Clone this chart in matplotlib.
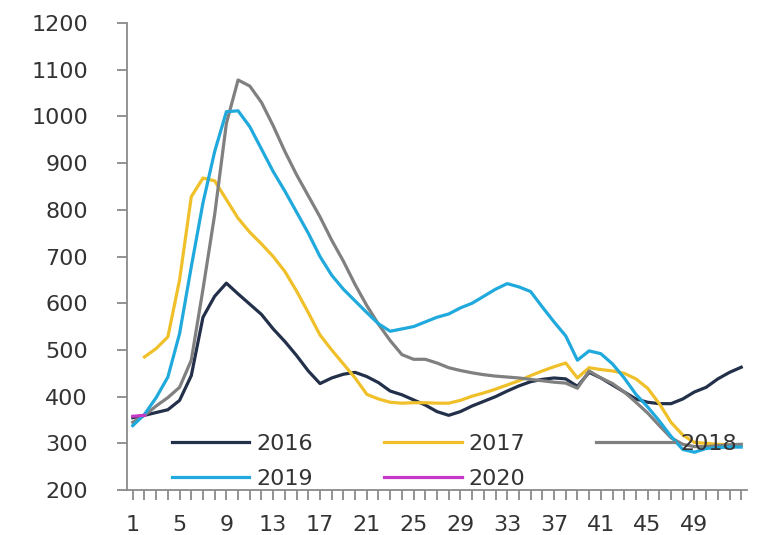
import numpy as np
import matplotlib.pyplot as plt

weeks = np.arange(1, 54)

# weekly values per year (week 1..53), nan where the year has no reading
y2016 = [355, 360, 366, 372, 392, 445, 570, 615, 643, 620, 598, 576, 545, 518, 488,
         455, 428, 440, 448, 452, 443, 430, 412, 404, 393, 382, 368, 360, 368, 380,
         390, 400, 412, 423, 432, 437, 440, 438, 422, 452, 440, 425, 410, 395, 388,
         385, 385, 395, 410, 420, 438, 452, 463]
y2017 = [np.nan, 485, 503, 528, 650, 828, 868, 862, 822, 782, 752, 727, 700, 668, 626,
         580, 532, 500, 470, 440, 405, 395, 388, 386, 387, 387, 386, 386, 392, 401,
         408, 416, 425, 434, 445, 455, 464, 472, 440, 462, 458, 455, 450, 438, 418,
         385, 345, 318, 302, 300, 298, 297, 296]
y2018 = [345, 360, 380, 398, 420, 478, 630, 790, 985, 1078, 1065, 1030, 980, 925, 875,
         830, 785, 735, 690, 640, 595, 555, 520, 490, 480, 480, 472, 462, 456, 451,
         447, 444, 442, 440, 437, 434, 431, 429, 418, 455, 440, 428, 410, 388, 365,
         338, 312, 298, 293, 293, 295, 297, 298]
y2019 = [338, 362, 398, 442, 535, 678, 815, 925, 1010, 1012, 978, 930, 882, 840, 795,
         750, 700, 660, 630, 605, 580, 556, 540, 545, 550, 560, 570, 577, 590, 600,
         615, 630, 642, 635, 625, 592, 560, 530, 478, 498, 492, 470, 440, 405, 378,
         348, 315, 287, 281, 289, 291, 292, 292]
y2020 = [358, 360]

years = ['2016', '2017', '2018', '2019', '2020']
colors = ['#23304a', '#f0c02a', '#808080', '#1fa9dc', '#c639c6']

plt.rcParams['font.family'] = 'DejaVu Sans'
fig = plt.figure(figsize=(7.6, 5.35), dpi=100)
ax = fig.add_axes([0.167, 0.084, 0.816, 0.873])

lines = []
for yr, vals, col in zip(years, [y2016, y2017, y2018, y2019, y2020], colors):
    ln, = ax.plot(weeks[:len(vals)], vals, color=col, lw=2.3, label=yr,
                  solid_joinstyle='round')
    lines.append(ln)

ax.set_xlim(0.5, 53.5)
ax.set_ylim(200, 1200)
ax.set_yticks(range(200, 1201, 100))
ax.set_xticks(range(1, 50, 4))
ax.set_xticks(range(1, 54), minor=True)

for s in ['top', 'right']:
    ax.spines[s].set_visible(False)
for s in ['left', 'bottom']:
    ax.spines[s].set_color('#8a8a8a')
    ax.spines[s].set_linewidth(1.3)

ax.tick_params(axis='y', length=7, width=1.3, color='#8a8a8a', pad=21,
               labelsize=16, labelcolor='#333333')
ax.tick_params(axis='x', which='both', length=7, width=1.3, color='#8a8a8a',
               pad=11, labelsize=16, labelcolor='#333333')

# legend fills column by column, so reorder to get 2016/2017/2018 on the first row
order = [0, 3, 1, 4, 2]
ax.legend([lines[i] for i in order], [years[i] for i in order], ncol=3,
          loc='upper left', bbox_to_anchor=(0.072, 0.12), frameon=False,
          fontsize=16, handlelength=3.5, handletextpad=0.3, columnspacing=3.2,
          labelspacing=0.68, borderpad=0, borderaxespad=0, labelcolor='#333333')

fig.savefig('out.png', dpi=100)
